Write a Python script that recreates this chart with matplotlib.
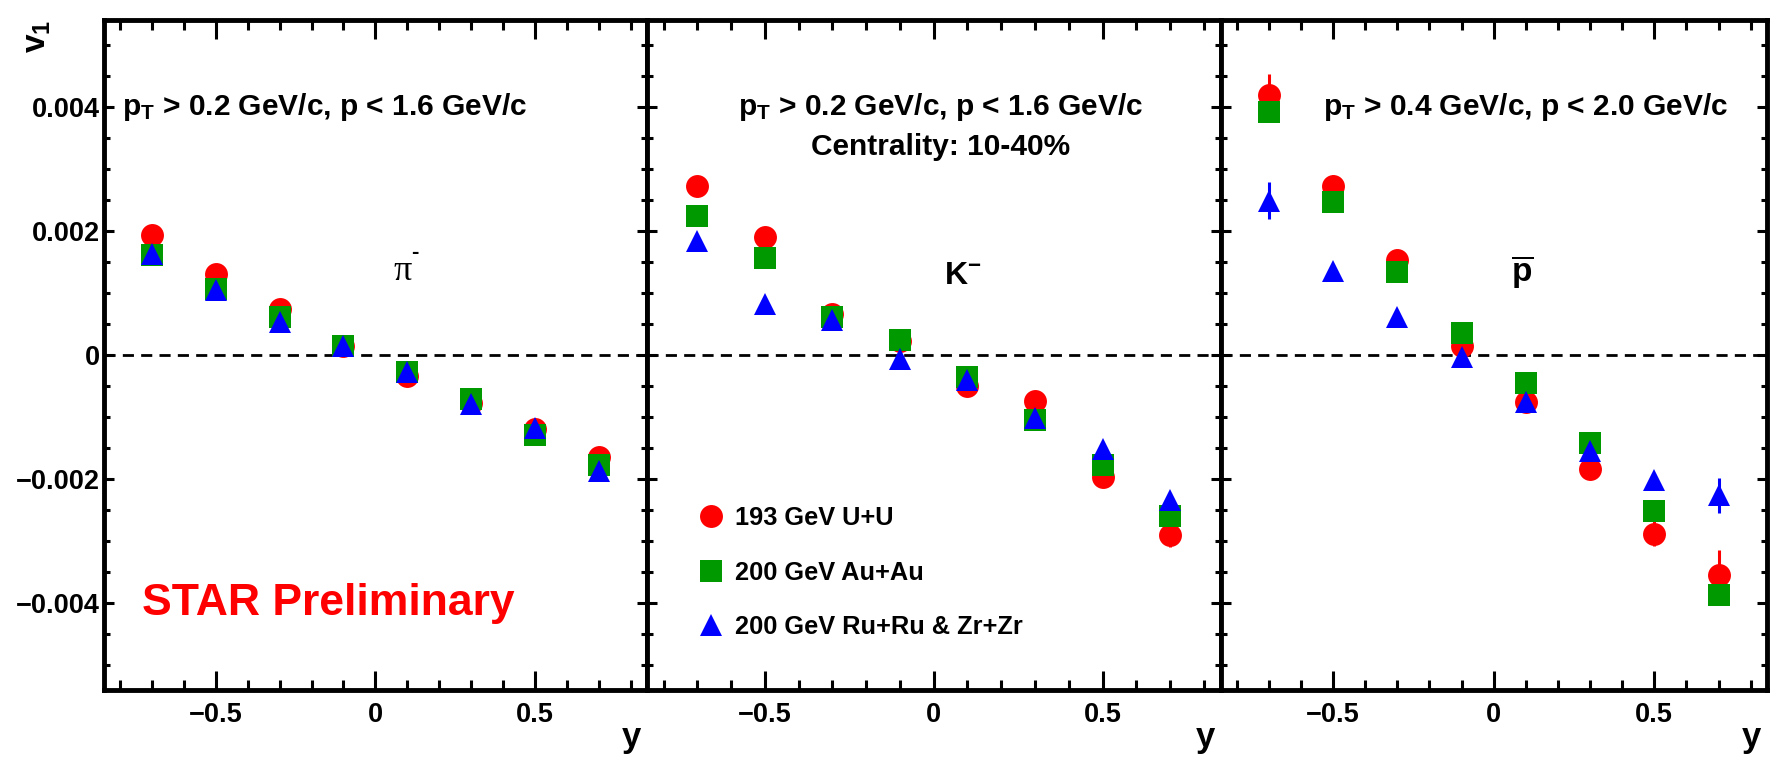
import matplotlib
matplotlib.use("Agg")
import matplotlib.pyplot as plt
from matplotlib.lines import Line2D
from matplotlib.ticker import MultipleLocator, FixedLocator

plt.rcParams['font.family'] = ['Liberation Sans', 'DejaVu Sans']
plt.rcParams['font.weight'] = 'bold'
plt.rcParams['mathtext.fontset'] = 'custom'
plt.rcParams['mathtext.rm'] = 'Liberation Sans:bold'
plt.rcParams['mathtext.bf'] = 'Liberation Sans:bold'
plt.rcParams['mathtext.it'] = 'Liberation Sans:bold'

# rapidity bins
rapidity = [-0.7, -0.5, -0.3, -0.1, 0.1, 0.3, 0.5, 0.7]

# pi- v1
pim_uu = [0.00193, 0.00131, 0.00074, 0.00015, -0.00034, -0.00077, -0.00120, -0.00165]
pim_auau = [0.00162, 0.00106, 0.00061, 0.00014, -0.00027, -0.00071, -0.00129, -0.00178]
pim_iso = [0.00163, 0.00105, 0.00053, 0.00015, -0.00027, -0.00079, -0.00117, -0.00187]
pim_uu_err = [0.00005] * 8
pim_auau_err = [0.00004] * 8
pim_iso_err = [0.00004] * 8

# K- v1
km_uu = [0.00272, 0.00191, 0.00066, 0.00022, -0.00050, -0.00074, -0.00197, -0.00290]
km_auau = [0.00224, 0.00157, 0.00062, 0.00024, -0.00035, -0.00104, -0.00178, -0.00259]
km_iso = [0.00183, 0.00083, 0.00057, -0.00006, -0.00040, -0.00101, -0.00152, -0.00233]
km_uu_err = [0.00012, 0.00008, 0.00006, 0.00006, 0.00006, 0.00006, 0.00008, 0.00020]
km_auau_err = [0.00008, 0.00006, 0.00005, 0.00005, 0.00005, 0.00005, 0.00006, 0.00008]
km_iso_err = [0.00008, 0.00005, 0.00005, 0.00005, 0.00005, 0.00005, 0.00005, 0.00008]

# anti-proton v1
pbar_uu = [0.00419, 0.00272, 0.00153, 0.00015, -0.00076, -0.00183, -0.00288, -0.00355]
pbar_auau = [0.00392, 0.00246, 0.00133, 0.00035, -0.00045, -0.00142, -0.00252, -0.00387]
pbar_iso = [0.00249, 0.00136, 0.00061, -0.00003, -0.00076, -0.00155, -0.00201, -0.00226]
pbar_uu_err = [0.00034, 0.00018, 0.00015, 0.00010, 0.00010, 0.00012, 0.00020, 0.00040]
pbar_auau_err = [0.00010, 0.00008, 0.00007, 0.00006, 0.00006, 0.00007, 0.00008, 0.00010]
pbar_iso_err = [0.00030, 0.00010, 0.00008, 0.00006, 0.00006, 0.00008, 0.00010, 0.00028]

systems = ["193 GeV U+U", "200 GeV Au+Au", "200 GeV Ru+Ru & Zr+Zr"]
colors = ["#ff0000", "#009900", "#0000ff"]
markers = ["o", "s", "^"]

panels = [
    ([pim_uu, pim_auau, pim_iso], [pim_uu_err, pim_auau_err, pim_iso_err]),
    ([km_uu, km_auau, km_iso], [km_uu_err, km_auau_err, km_iso_err]),
    ([pbar_uu, pbar_auau, pbar_iso], [pbar_uu_err, pbar_auau_err, pbar_iso_err]),
]

fig = plt.figure(figsize=(17.74, 7.59), dpi=100)
W, H = 1774.0, 759.0
edges = [104, 646.7, 1220.7, 1766.7]
bot, top = 690, 20
axes = []
for i in range(3):
    ax = fig.add_axes([edges[i] / W, 1 - bot / H, (edges[i + 1] - edges[i]) / W, (bot - top) / H])
    axes.append(ax)

for i, ax in enumerate(axes):
    vals, errs = panels[i]
    ax.axhline(0, color="black", lw=2, ls=(0, (4.0, 2.6)), zorder=1)
    for v, e, c, m in zip(vals, errs, colors, markers):
        ax.errorbar(rapidity, v, yerr=e, fmt=m, color=c, ms=16.5, mew=0,
                    elinewidth=2.2, capsize=0, zorder=3)
    ax.set_xlim(-0.85, 0.85)
    ax.set_ylim(-0.0054, 0.0054)
    ax.xaxis.set_major_locator(FixedLocator([-0.5, 0, 0.5]))
    ax.xaxis.set_minor_locator(MultipleLocator(0.1))
    ax.yaxis.set_major_locator(MultipleLocator(0.002))
    ax.yaxis.set_minor_locator(MultipleLocator(0.0005))
    ax.tick_params(which="both", direction="in", top=True, right=True, width=2.2)
    ax.tick_params(axis="x", which="major", length=14, pad=9, labelsize=19.5)
    ax.tick_params(axis="x", which="minor", length=7)
    ax.tick_params(axis="y", which="major", length=7.5, pad=3, labelsize=19.5)
    ax.tick_params(axis="y", which="minor", length=4)
    ax.set_xticklabels(["\u22120.5", "0", "0.5"])
    for s in ax.spines.values():
        s.set_linewidth(3.5)
    if i == 0:
        ax.set_yticks([-0.004, -0.002, 0, 0.002, 0.004])
        ax.set_yticklabels(["\u22120.004", "\u22120.002", "0", "0.002", "0.004"])
    else:
        ax.tick_params(axis="y", labelleft=False)
    fig.text((edges[i + 1] - 15) / W, 1 - 738 / H, "y", fontsize=25, ha="center", va="center")

cut_a = r"$\mathbf{p_T}$ > 0.2 GeV/c, p < 1.6 GeV/c"
cut_b = r"$\mathbf{p_T}$ > 0.4 GeV/c, p < 2.0 GeV/c"
axes[0].text(-0.16, 0.0040, cut_a, fontsize=21.5, ha="center", va="center")
axes[1].text(0.02, 0.0040, cut_a, fontsize=21.5, ha="center", va="center")
axes[1].text(0.02, 0.00335, "Centrality: 10-40%", fontsize=21.5, ha="center", va="center")
axes[2].text(0.10, 0.0040, cut_b, fontsize=21.5, ha="center", va="center")

axes[0].text(0.085, 0.00135, "π", fontsize=26, ha="center", va="center",
             family=["Liberation Serif", "DejaVu Serif"], fontweight="normal")
axes[0].text(0.125, 0.00165, "-", fontsize=16, ha="center", va="center")
axes[1].text(0.085, 0.00128, "K$^{-}$", fontsize=23, ha="center", va="center")
axes[2].text(0.09, 0.00135, r"$\overline{\mathbf{p}}$", fontsize=24, ha="center", va="center")

axes[0].text(-0.147, -0.0040, "STAR Preliminary", color="#ff0000", fontsize=32,
             ha="center", va="center")

handles = [Line2D([], [], marker=m, color=c, ls="", ms=16.5, mew=0) for m, c in zip(markers, colors)]
axes[1].legend(handles, systems, loc="center left", bbox_to_anchor=(0.072, 0.175),
               frameon=False, fontsize=18.3, labelspacing=1.2, handlelength=1.0,
               handletextpad=0.45, borderaxespad=0)

fig.text(38 / W, 1 - 20 / H, r"$\mathbf{v_1}$", fontsize=24, rotation=90, ha="center", va="top")

fig.savefig("out.png", dpi=100)
